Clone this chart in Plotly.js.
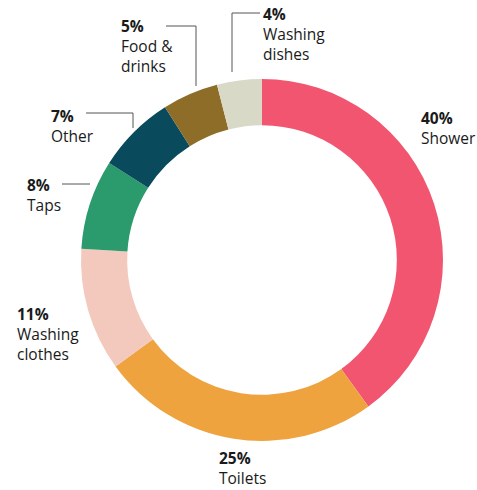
<!DOCTYPE html>
<html><head><meta charset="utf-8">
<script src="https://cdn.plot.ly/plotly-3.0.1.min.js"></script>
<style>html,body{margin:0;padding:0;background:#fff}#c{width:477px;height:490px}</style>
</head><body><div id="c"></div>
<script>
const categories = ["Shower","Toilets","Washing clothes","Taps","Other","Food & drinks","Washing dishes"];
const labelTexts = ["Shower","Toilets","Washing<br>clothes","Taps","Other","Food &<br>drinks","Washing<br>dishes"];
const values = [40,25,11,8,7,5,4];
const colors = ["#f2556f","#eea33f","#f4c9bd","#2b9b6d","#094a5c","#8d6d28","#d8d9c6"];

const W = 477, H = 490;
const px = x => x / W, py = y => 1 - y / H;
// label anchor positions (pixels, left edge / vertical middle)
const labelPos = [[420,128],[218,468],[16,334],[26,195],[50,126],[120,46],[262,33.5]];
const annotations = categories.map((c,i)=>({
  xref:'paper', yref:'paper', x: px(labelPos[i][0]), y: py(labelPos[i][1]),
  xanchor:'left', yanchor:'middle', align:'left', showarrow:false, borderpad:0,
  text:'<b>'+values[i]+'%</b><br>'+labelTexts[i],
  font:{family:'Open Sans, Noto Sans, sans-serif', size:15.5, color:'#1a1a1a'}
}));
const leaders = [
  [[232,72],[232,13],[260,13]],
  [[166,26],[196,26],[196,86]],
  [[86,113],[133,113],[133,128]],
  [[62,184],[90,184]]
];
const shapes = leaders.map(pts=>({
  type:'path', xref:'paper', yref:'paper',
  path: pts.map((p,j)=>(j?'L':'M')+px(p[0])+','+py(p[1])).join(' '),
  line:{color:'#555', width:1}
}));

const cx = 262, cy = 260, R = 181;
Plotly.newPlot('c', [{
  type:'pie', labels:categories, values:values, sort:false, direction:'clockwise', rotation:0,
  hole:0.745, marker:{colors:colors, line:{width:0}}, textinfo:'none', hoverinfo:'none',
  domain:{x:[px(cx-R), px(cx+R)], y:[py(cy+R), py(cy-R)]}
}], {
  width:W, height:H, margin:{l:0,r:0,t:0,b:0}, showlegend:false,
  paper_bgcolor:'#fff', annotations:annotations, shapes:shapes
}, {displayModeBar:false, staticPlot:true});
</script></body></html>
